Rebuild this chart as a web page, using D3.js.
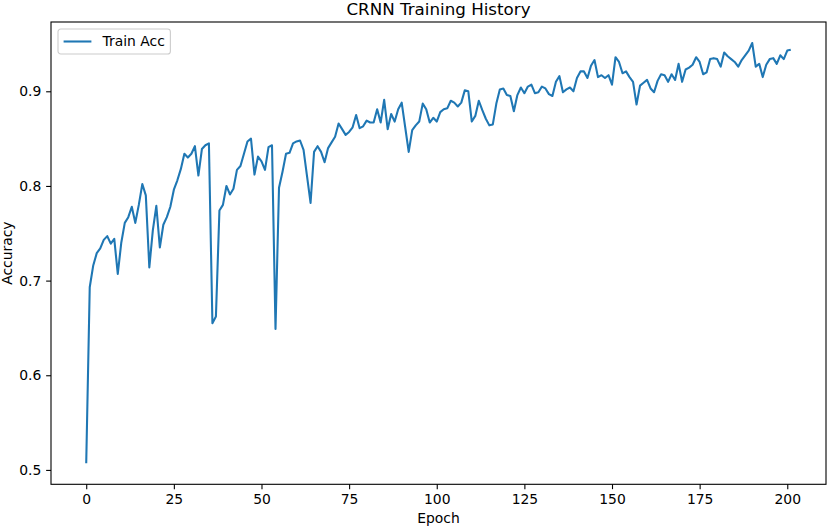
<!DOCTYPE html>
<html>
<head>
<meta charset="utf-8">
<script src="https://cdn.jsdelivr.net/npm/d3@7"></script>
<style>
  html, body { margin: 0; padding: 0; background: #fff; }
  svg { display: block; font-family: "DejaVu Sans", sans-serif; }
</style>
</head>
<body>
<svg id="chart" width="828" height="527"></svg>
<script>
const epochs = d3.range(0, 202);
const trainAcc = [
  0.507, 0.693, 0.716, 0.729, 0.734, 0.743, 0.747, 0.739, 0.744, 0.707,
  0.740, 0.761, 0.767, 0.778, 0.761, 0.780, 0.802, 0.790, 0.714, 0.753,
  0.779, 0.735, 0.759, 0.767, 0.778, 0.796, 0.806, 0.818, 0.834, 0.830,
  0.834, 0.842, 0.811, 0.839, 0.843, 0.845, 0.655, 0.662, 0.774, 0.780,
  0.800, 0.791, 0.797, 0.817, 0.821, 0.834, 0.847, 0.850, 0.812, 0.831,
  0.826, 0.817, 0.841, 0.843, 0.649, 0.798, 0.815, 0.834, 0.835, 0.845,
  0.847, 0.848, 0.838, 0.810, 0.782, 0.836, 0.842, 0.836, 0.825, 0.840,
  0.846, 0.852, 0.866, 0.860, 0.854, 0.857, 0.862, 0.875, 0.861, 0.863,
  0.869, 0.867, 0.867, 0.881, 0.867, 0.891, 0.860, 0.876, 0.868, 0.881,
  0.888, 0.862, 0.836, 0.859, 0.864, 0.868, 0.887, 0.881, 0.867, 0.872,
  0.868, 0.878, 0.881, 0.882, 0.890, 0.888, 0.884, 0.888, 0.901, 0.900,
  0.868, 0.874, 0.890, 0.880, 0.871, 0.864, 0.865, 0.887, 0.902, 0.903,
  0.896, 0.895, 0.879, 0.896, 0.904, 0.898, 0.905, 0.907, 0.898, 0.899,
  0.905, 0.903, 0.897, 0.895, 0.910, 0.916, 0.899, 0.902, 0.904, 0.900,
  0.914, 0.921, 0.921, 0.914, 0.927, 0.933, 0.915, 0.917, 0.914, 0.917,
  0.907, 0.936, 0.931, 0.919, 0.921, 0.915, 0.910, 0.886, 0.906, 0.909,
  0.912, 0.903, 0.899, 0.911, 0.918, 0.917, 0.910, 0.918, 0.912, 0.929,
  0.910, 0.923, 0.925, 0.928, 0.936, 0.931, 0.918, 0.920, 0.934, 0.935,
  0.934, 0.926, 0.941, 0.937, 0.934, 0.931, 0.926, 0.933, 0.938, 0.943,
  0.951, 0.926, 0.929, 0.915, 0.928, 0.934, 0.935, 0.929, 0.938, 0.934,
  0.943, 0.944
];
const xTicks = [0, 25, 50, 75, 100, 125, 150, 175, 200];
const yTicks = [0.5, 0.6, 0.7, 0.8, 0.9];
const titleText = "CRNN Training History";
const xLabel = "Epoch";
const yLabel = "Accuracy";
const seriesName = "Train Acc";

const svg = d3.select("#chart");
const L = 51, R = 826, T = 22, B = 484.3;
const color = "#1f77b4";
const fs = 13.9;

const xMin = d3.min(epochs), xMax = d3.max(epochs);
const xPad = (xMax - xMin) * 0.05;
const x = d3.scaleLinear().domain([xMin - xPad, xMax + xPad]).range([L, R]);
const yMin = d3.min(trainAcc), yMax = d3.max(trainAcc);
const yPad = (yMax - yMin) * 0.05;
const y = d3.scaleLinear().domain([yMin - yPad, yMax + yPad]).range([B, T]);

// line
const line = d3.line().x((d, i) => x(epochs[i])).y(d => y(d));
svg.append("path")
  .datum(trainAcc)
  .attr("d", line)
  .attr("fill", "none")
  .attr("stroke", color)
  .attr("stroke-width", 2.08)
  .attr("stroke-linejoin", "round")
  .attr("stroke-linecap", "butt");

// axes
const xAxis = d3.axisBottom(x).tickValues(xTicks).tickSize(4.86).tickPadding(4.86).tickFormat(d3.format("d"));
const yAxis = d3.axisLeft(y).tickValues(yTicks).tickSize(4.86).tickPadding(4.86).tickFormat(d3.format(".1f"));

const gx = svg.append("g").attr("transform", `translate(0,${B})`).call(xAxis);
const gy = svg.append("g").attr("transform", `translate(${L},0)`).call(yAxis);
[gx, gy].forEach(g => {
  g.select(".domain").remove();
  g.selectAll(".tick line").attr("stroke", "#000").attr("stroke-width", 1.1);
  g.selectAll(".tick text").attr("fill", "#000").attr("font-size", fs).attr("font-family", "DejaVu Sans, sans-serif");
});

// frame
svg.append("rect")
  .attr("x", L).attr("y", T).attr("width", R - L).attr("height", B - T)
  .attr("fill", "none").attr("stroke", "#000").attr("stroke-width", 1.1);

// title & labels
svg.append("text")
  .attr("x", (L + R) / 2).attr("y", 15)
  .attr("text-anchor", "middle").attr("font-size", 16.7).attr("fill", "#000")
  .text(titleText);
svg.append("text")
  .attr("x", (L + R) / 2).attr("y", 523)
  .attr("text-anchor", "middle").attr("font-size", fs).attr("fill", "#000")
  .text(xLabel);
svg.append("text")
  .attr("transform", `translate(12,${(T + B) / 2}) rotate(-90)`)
  .attr("text-anchor", "middle").attr("font-size", fs).attr("fill", "#000")
  .text(yLabel);

// legend
const lg = svg.append("g").attr("transform", `translate(${L + 7},${T + 7})`);
const lgText = lg.append("text")
  .attr("x", 44.5).attr("y", 12.5).attr("dy", "0.35em")
  .attr("font-size", fs).attr("fill", "#000").text(seriesName);
const tw = lgText.node().getComputedTextLength();
lg.insert("rect", "text")
  .attr("x", 0).attr("y", 0).attr("width", 44.5 + tw + 5.6).attr("height", 25)
  .attr("rx", 2.8).attr("ry", 2.8)
  .attr("fill", "#fff").attr("fill-opacity", 0.8)
  .attr("stroke", "#cccccc").attr("stroke-width", 1.1);
lg.append("line")
  .attr("x1", 5.6).attr("x2", 33.4).attr("y1", 12.5).attr("y2", 12.5)
  .attr("stroke", color).attr("stroke-width", 2.08);
</script>
</body>
</html>
